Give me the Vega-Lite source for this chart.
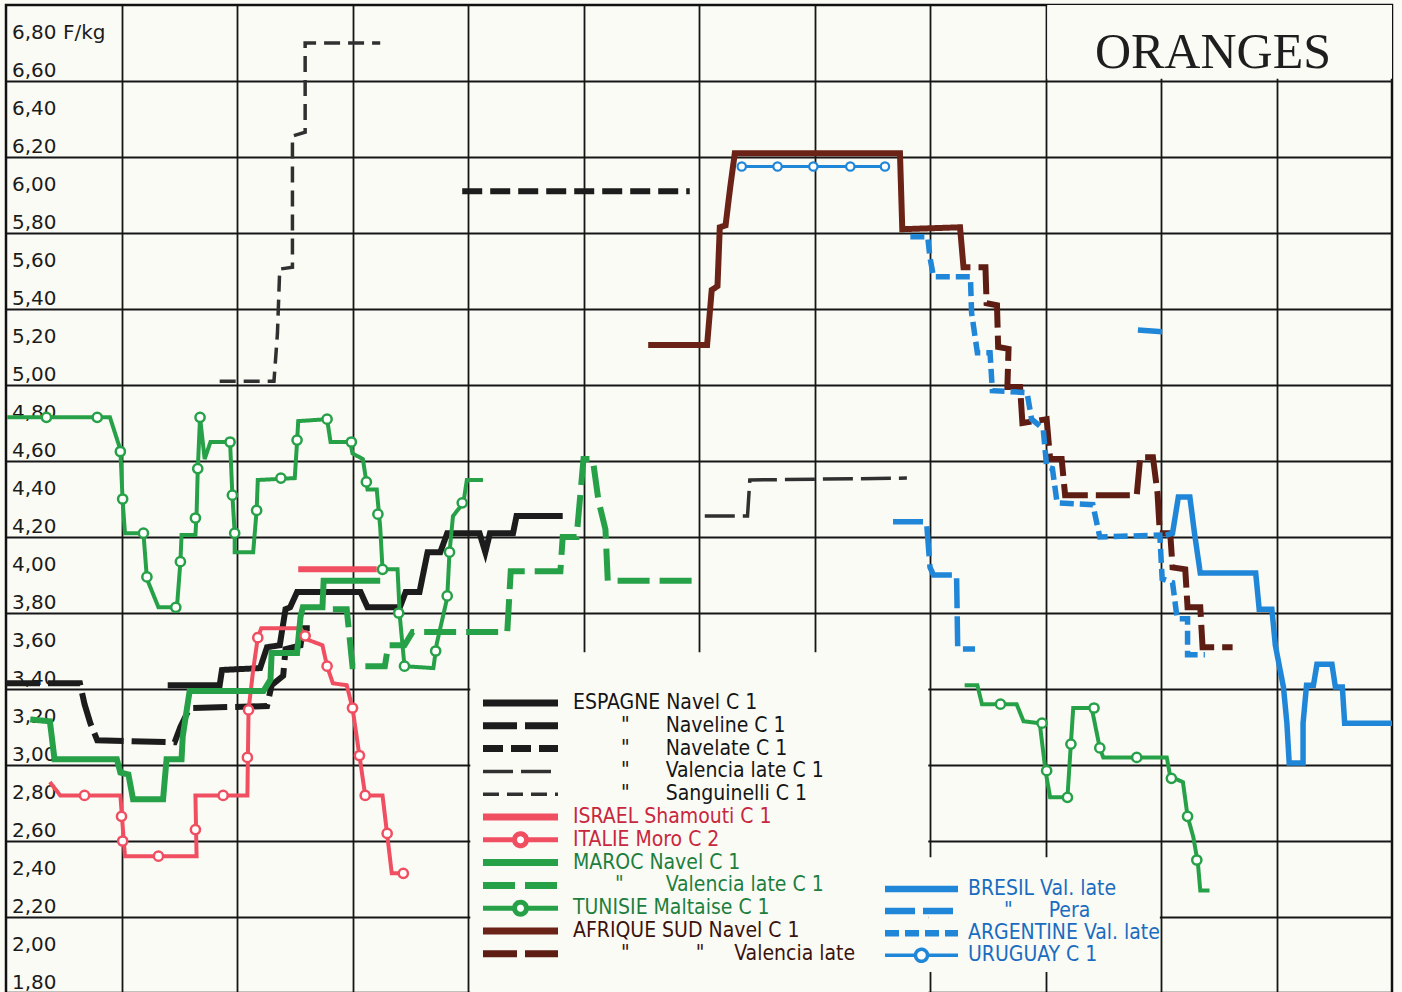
{
  "$schema": "https://vega.github.io/schema/vega-lite/v6.json",
  "width": 1386,
  "height": 988,
  "autosize": "none",
  "padding": {"left": 6, "top": 5, "right": 10, "bottom": 0},
  "background": "#fbfbf6",
  "config": {"view": {"stroke": "#111111", "strokeWidth": 2.5}, "locale": {"number": {"decimal": ",", "thousands": ".", "grouping": [3], "currency": ["", ""]}}},
  "datasets": {
    "yticks": [{"p":1.8},{"p":2.0},{"p":2.2},{"p":2.4},{"p":2.6},{"p":2.8},{"p":3.0},{"p":3.2},{"p":3.4},{"p":3.6},{"p":3.8},{"p":4.0},{"p":4.2},{"p":4.4},{"p":4.6},{"p":4.8},{"p":5.0},{"p":5.2},{"p":5.4},{"p":5.6},{"p":5.8},{"p":6.0},{"p":6.2},{"p":6.4},{"p":6.6},{"p":6.8}],
    "linesA": [
      {"s":"ESPAGNE Navel C 1","m":1.40,"v":3.42},{"s":"ESPAGNE Navel C 1","m":1.85,"v":3.42},{"s":"ESPAGNE Navel C 1","m":1.87,"v":3.50},{"s":"ESPAGNE Navel C 1","m":2.20,"v":3.51},{"s":"ESPAGNE Navel C 1","m":2.26,"v":3.62},{"s":"ESPAGNE Navel C 1","m":2.37,"v":3.63},{"s":"ESPAGNE Navel C 1","m":2.42,"v":3.82},{"s":"ESPAGNE Navel C 1","m":2.46,"v":3.83},{"s":"ESPAGNE Navel C 1","m":2.52,"v":3.91},{"s":"ESPAGNE Navel C 1","m":3.07,"v":3.91},{"s":"ESPAGNE Navel C 1","m":3.13,"v":3.83},{"s":"ESPAGNE Navel C 1","m":3.41,"v":3.83},{"s":"ESPAGNE Navel C 1","m":3.46,"v":3.91},{"s":"ESPAGNE Navel C 1","m":3.58,"v":3.91},{"s":"ESPAGNE Navel C 1","m":3.65,"v":4.12},{"s":"ESPAGNE Navel C 1","m":3.76,"v":4.12},{"s":"ESPAGNE Navel C 1","m":3.82,"v":4.22},{"s":"ESPAGNE Navel C 1","m":4.10,"v":4.22},{"s":"ESPAGNE Navel C 1","m":4.15,"v":4.12},{"s":"ESPAGNE Navel C 1","m":4.19,"v":4.22},{"s":"ESPAGNE Navel C 1","m":4.39,"v":4.22},{"s":"ESPAGNE Navel C 1","m":4.42,"v":4.31},{"s":"ESPAGNE Navel C 1","m":4.82,"v":4.31},
      {"s":"ESPAGNE Naveline C 1","m":0.0,"v":3.43},{"s":"ESPAGNE Naveline C 1","m":0.64,"v":3.43},{"s":"ESPAGNE Naveline C 1","m":0.68,"v":3.32},{"s":"ESPAGNE Naveline C 1","m":0.73,"v":3.22},{"s":"ESPAGNE Naveline C 1","m":0.79,"v":3.13},{"s":"ESPAGNE Naveline C 1","m":1.46,"v":3.12},{"s":"ESPAGNE Naveline C 1","m":1.51,"v":3.20},{"s":"ESPAGNE Naveline C 1","m":1.59,"v":3.30},{"s":"ESPAGNE Naveline C 1","m":2.26,"v":3.31},{"s":"ESPAGNE Naveline C 1","m":2.30,"v":3.42},{"s":"ESPAGNE Naveline C 1","m":2.40,"v":3.47},{"s":"ESPAGNE Naveline C 1","m":2.42,"v":3.61},{"s":"ESPAGNE Naveline C 1","m":2.55,"v":3.63},{"s":"ESPAGNE Naveline C 1","m":2.57,"v":3.72},{"s":"ESPAGNE Naveline C 1","m":2.63,"v":3.72},
      {"s":"ESPAGNE Navelate C 1","m":3.95,"v":6.02},{"s":"ESPAGNE Navelate C 1","m":5.92,"v":6.02},
      {"s":"ESPAGNE Valencia late C 1","m":6.05,"v":4.31},{"s":"ESPAGNE Valencia late C 1","m":6.42,"v":4.31},{"s":"ESPAGNE Valencia late C 1","m":6.44,"v":4.50},{"s":"ESPAGNE Valencia late C 1","m":7.80,"v":4.51},
      {"s":"ESPAGNE Sanguinelli C 1","m":1.85,"v":5.02},{"s":"ESPAGNE Sanguinelli C 1","m":2.32,"v":5.02},{"s":"ESPAGNE Sanguinelli C 1","m":2.35,"v":5.27},{"s":"ESPAGNE Sanguinelli C 1","m":2.37,"v":5.61},{"s":"ESPAGNE Sanguinelli C 1","m":2.48,"v":5.62},{"s":"ESPAGNE Sanguinelli C 1","m":2.48,"v":6.31},{"s":"ESPAGNE Sanguinelli C 1","m":2.59,"v":6.33},{"s":"ESPAGNE Sanguinelli C 1","m":2.59,"v":6.80},{"s":"ESPAGNE Sanguinelli C 1","m":3.24,"v":6.80},
      {"s":"ISRAEL Shamouti C 1","m":2.53,"v":4.03},{"s":"ISRAEL Shamouti C 1","m":3.21,"v":4.03},
      {"s":"ITALIE Moro C 2","m":0.38,"v":2.91},{"s":"ITALIE Moro C 2","m":0.47,"v":2.84},{"s":"ITALIE Moro C 2","m":0.99,"v":2.84},{"s":"ITALIE Moro C 2","m":1.03,"v":2.52},{"s":"ITALIE Moro C 2","m":1.65,"v":2.52},{"s":"ITALIE Moro C 2","m":1.64,"v":2.84},{"s":"ITALIE Moro C 2","m":2.09,"v":2.84},{"s":"ITALIE Moro C 2","m":2.10,"v":3.29},{"s":"ITALIE Moro C 2","m":2.14,"v":3.50},{"s":"ITALIE Moro C 2","m":2.18,"v":3.67},{"s":"ITALIE Moro C 2","m":2.21,"v":3.72},{"s":"ITALIE Moro C 2","m":2.55,"v":3.72},{"s":"ITALIE Moro C 2","m":2.61,"v":3.66},{"s":"ITALIE Moro C 2","m":2.74,"v":3.63},{"s":"ITALIE Moro C 2","m":2.78,"v":3.52},{"s":"ITALIE Moro C 2","m":2.83,"v":3.43},{"s":"ITALIE Moro C 2","m":2.95,"v":3.42},{"s":"ITALIE Moro C 2","m":3.00,"v":3.30},{"s":"ITALIE Moro C 2","m":3.11,"v":2.84},{"s":"ITALIE Moro C 2","m":3.26,"v":2.84},{"s":"ITALIE Moro C 2","m":3.34,"v":2.43},{"s":"ITALIE Moro C 2","m":3.45,"v":2.43},
      {"s":"MAROC Navel C 1","m":0.21,"v":3.24},{"s":"MAROC Navel C 1","m":0.38,"v":3.23},{"s":"MAROC Navel C 1","m":0.42,"v":3.03},{"s":"MAROC Navel C 1","m":0.96,"v":3.03},{"s":"MAROC Navel C 1","m":0.99,"v":2.96},{"s":"MAROC Navel C 1","m":1.06,"v":2.95},{"s":"MAROC Navel C 1","m":1.10,"v":2.82},{"s":"MAROC Navel C 1","m":1.36,"v":2.82},{"s":"MAROC Navel C 1","m":1.39,"v":3.03},{"s":"MAROC Navel C 1","m":1.52,"v":3.03},{"s":"MAROC Navel C 1","m":1.53,"v":3.15},{"s":"MAROC Navel C 1","m":1.59,"v":3.39},{"s":"MAROC Navel C 1","m":2.23,"v":3.39},{"s":"MAROC Navel C 1","m":2.29,"v":3.45},{"s":"MAROC Navel C 1","m":2.30,"v":3.59},{"s":"MAROC Navel C 1","m":2.52,"v":3.59},{"s":"MAROC Navel C 1","m":2.55,"v":3.78},{"s":"MAROC Navel C 1","m":2.57,"v":3.83},{"s":"MAROC Navel C 1","m":2.74,"v":3.83},{"s":"MAROC Navel C 1","m":2.75,"v":3.97},{"s":"MAROC Navel C 1","m":3.24,"v":3.97},
      {"s":"MAROC Valencia late C 1","m":2.83,"v":3.82},{"s":"MAROC Valencia late C 1","m":2.95,"v":3.82},{"s":"MAROC Valencia late C 1","m":3.00,"v":3.52},{"s":"MAROC Valencia late C 1","m":3.28,"v":3.52},{"s":"MAROC Valencia late C 1","m":3.31,"v":3.63},{"s":"MAROC Valencia late C 1","m":3.45,"v":3.63},{"s":"MAROC Valencia late C 1","m":3.52,"v":3.70},{"s":"MAROC Valencia late C 1","m":4.34,"v":3.70},{"s":"MAROC Valencia late C 1","m":4.37,"v":4.02},{"s":"MAROC Valencia late C 1","m":4.80,"v":4.02},{"s":"MAROC Valencia late C 1","m":4.82,"v":4.20},{"s":"MAROC Valencia late C 1","m":4.94,"v":4.20},{"s":"MAROC Valencia late C 1","m":5.00,"v":4.61},{"s":"MAROC Valencia late C 1","m":5.08,"v":4.61},{"s":"MAROC Valencia late C 1","m":5.13,"v":4.39},{"s":"MAROC Valencia late C 1","m":5.19,"v":4.24},{"s":"MAROC Valencia late C 1","m":5.21,"v":3.97},{"s":"MAROC Valencia late C 1","m":5.95,"v":3.97},
      {"s":"TUNISIE Maltaise C 1","k":1,"m":0.01,"v":4.83},{"s":"TUNISIE Maltaise C 1","k":1,"m":0.90,"v":4.83},{"s":"TUNISIE Maltaise C 1","k":1,"m":0.99,"v":4.66},{"s":"TUNISIE Maltaise C 1","k":1,"m":1.01,"v":4.39},{"s":"TUNISIE Maltaise C 1","k":1,"m":1.03,"v":4.22},{"s":"TUNISIE Maltaise C 1","k":1,"m":1.19,"v":4.22},{"s":"TUNISIE Maltaise C 1","k":1,"m":1.22,"v":3.98},{"s":"TUNISIE Maltaise C 1","k":1,"m":1.32,"v":3.83},{"s":"TUNISIE Maltaise C 1","k":1,"m":1.48,"v":3.83},{"s":"TUNISIE Maltaise C 1","k":1,"m":1.51,"v":4.07},{"s":"TUNISIE Maltaise C 1","k":1,"m":1.52,"v":4.21},{"s":"TUNISIE Maltaise C 1","k":1,"m":1.64,"v":4.21},{"s":"TUNISIE Maltaise C 1","k":1,"m":1.65,"v":4.32},{"s":"TUNISIE Maltaise C 1","k":1,"m":1.66,"v":4.55},{"s":"TUNISIE Maltaise C 1","k":1,"m":1.68,"v":4.83},{"s":"TUNISIE Maltaise C 1","k":1,"m":1.72,"v":4.61},{"s":"TUNISIE Maltaise C 1","k":1,"m":1.77,"v":4.70},{"s":"TUNISIE Maltaise C 1","k":1,"m":1.94,"v":4.70},{"s":"TUNISIE Maltaise C 1","k":1,"m":1.96,"v":4.42},{"s":"TUNISIE Maltaise C 1","k":1,"m":1.98,"v":4.22},{"s":"TUNISIE Maltaise C 1","k":1,"m":1.98,"v":4.12},{"s":"TUNISIE Maltaise C 1","k":1,"m":2.14,"v":4.12},{"s":"TUNISIE Maltaise C 1","k":1,"m":2.17,"v":4.34},{"s":"TUNISIE Maltaise C 1","k":1,"m":2.18,"v":4.50},{"s":"TUNISIE Maltaise C 1","k":1,"m":2.50,"v":4.51},{"s":"TUNISIE Maltaise C 1","k":1,"m":2.52,"v":4.70},{"s":"TUNISIE Maltaise C 1","k":1,"m":2.53,"v":4.81},{"s":"TUNISIE Maltaise C 1","k":1,"m":2.78,"v":4.82},{"s":"TUNISIE Maltaise C 1","k":1,"m":2.81,"v":4.70},{"s":"TUNISIE Maltaise C 1","k":1,"m":2.98,"v":4.70},{"s":"TUNISIE Maltaise C 1","k":1,"m":3.00,"v":4.64},{"s":"TUNISIE Maltaise C 1","k":1,"m":3.09,"v":4.61},{"s":"TUNISIE Maltaise C 1","k":1,"m":3.13,"v":4.45},{"s":"TUNISIE Maltaise C 1","k":1,"m":3.21,"v":4.45},{"s":"TUNISIE Maltaise C 1","k":1,"m":3.24,"v":4.25},{"s":"TUNISIE Maltaise C 1","k":1,"m":3.26,"v":4.03},{"s":"TUNISIE Maltaise C 1","k":1,"m":3.39,"v":4.03},{"s":"TUNISIE Maltaise C 1","k":1,"m":3.41,"v":3.78},{"s":"TUNISIE Maltaise C 1","k":1,"m":3.45,"v":3.52},{"s":"TUNISIE Maltaise C 1","k":1,"m":3.70,"v":3.51},{"s":"TUNISIE Maltaise C 1","k":1,"m":3.73,"v":3.64},{"s":"TUNISIE Maltaise C 1","k":1,"m":3.82,"v":3.88},{"s":"TUNISIE Maltaise C 1","k":1,"m":3.84,"v":4.12},{"s":"TUNISIE Maltaise C 1","k":1,"m":3.87,"v":4.31},{"s":"TUNISIE Maltaise C 1","k":1,"m":3.96,"v":4.38},{"s":"TUNISIE Maltaise C 1","k":1,"m":3.99,"v":4.50},{"s":"TUNISIE Maltaise C 1","k":1,"m":4.13,"v":4.50},
      {"s":"TUNISIE Maltaise C 1","k":2,"m":8.30,"v":3.42},{"s":"TUNISIE Maltaise C 1","k":2,"m":8.41,"v":3.42},{"s":"TUNISIE Maltaise C 1","k":2,"m":8.45,"v":3.32},{"s":"TUNISIE Maltaise C 1","k":2,"m":8.75,"v":3.32},{"s":"TUNISIE Maltaise C 1","k":2,"m":8.81,"v":3.23},{"s":"TUNISIE Maltaise C 1","k":2,"m":8.95,"v":3.22},{"s":"TUNISIE Maltaise C 1","k":2,"m":9.00,"v":2.97},{"s":"TUNISIE Maltaise C 1","k":2,"m":9.04,"v":2.83},{"s":"TUNISIE Maltaise C 1","k":2,"m":9.19,"v":2.83},{"s":"TUNISIE Maltaise C 1","k":2,"m":9.21,"v":3.02},{"s":"TUNISIE Maltaise C 1","k":2,"m":9.24,"v":3.30},{"s":"TUNISIE Maltaise C 1","k":2,"m":9.40,"v":3.30},{"s":"TUNISIE Maltaise C 1","k":2,"m":9.47,"v":3.09},{"s":"TUNISIE Maltaise C 1","k":2,"m":9.50,"v":3.04},{"s":"TUNISIE Maltaise C 1","k":2,"m":10.05,"v":3.04},{"s":"TUNISIE Maltaise C 1","k":2,"m":10.08,"v":2.94},{"s":"TUNISIE Maltaise C 1","k":2,"m":10.19,"v":2.91},{"s":"TUNISIE Maltaise C 1","k":2,"m":10.23,"v":2.73},{"s":"TUNISIE Maltaise C 1","k":2,"m":10.28,"v":2.62},{"s":"TUNISIE Maltaise C 1","k":2,"m":10.32,"v":2.48},{"s":"TUNISIE Maltaise C 1","k":2,"m":10.34,"v":2.34},{"s":"TUNISIE Maltaise C 1","k":2,"m":10.42,"v":2.34},
      {"s":"AFRIQUE SUD Navel C 1","m":5.56,"v":5.21},{"s":"AFRIQUE SUD Navel C 1","m":6.07,"v":5.21},{"s":"AFRIQUE SUD Navel C 1","m":6.11,"v":5.50},{"s":"AFRIQUE SUD Navel C 1","m":6.16,"v":5.52},{"s":"AFRIQUE SUD Navel C 1","m":6.18,"v":5.83},{"s":"AFRIQUE SUD Navel C 1","m":6.23,"v":5.84},{"s":"AFRIQUE SUD Navel C 1","m":6.27,"v":6.04},{"s":"AFRIQUE SUD Navel C 1","m":6.31,"v":6.22},{"s":"AFRIQUE SUD Navel C 1","m":7.74,"v":6.22},{"s":"AFRIQUE SUD Navel C 1","m":7.76,"v":5.82},{"s":"AFRIQUE SUD Navel C 1","m":8.26,"v":5.83},{"s":"AFRIQUE SUD Navel C 1","m":8.29,"v":5.62},{"s":"AFRIQUE SUD Navel C 1","m":8.35,"v":5.62},
      {"s":"AFRIQUE SUD Valencia late","m":8.42,"v":5.62},{"s":"AFRIQUE SUD Valencia late","m":8.48,"v":5.62},{"s":"AFRIQUE SUD Valencia late","m":8.49,"v":5.43},{"s":"AFRIQUE SUD Valencia late","m":8.58,"v":5.42},{"s":"AFRIQUE SUD Valencia late","m":8.59,"v":5.20},{"s":"AFRIQUE SUD Valencia late","m":8.68,"v":5.19},{"s":"AFRIQUE SUD Valencia late","m":8.67,"v":4.99},{"s":"AFRIQUE SUD Valencia late","m":8.78,"v":4.99},{"s":"AFRIQUE SUD Valencia late","m":8.80,"v":4.80},{"s":"AFRIQUE SUD Valencia late","m":9.01,"v":4.82},{"s":"AFRIQUE SUD Valencia late","m":9.04,"v":4.61},{"s":"AFRIQUE SUD Valencia late","m":9.14,"v":4.61},{"s":"AFRIQUE SUD Valencia late","m":9.17,"v":4.42},{"s":"AFRIQUE SUD Valencia late","m":9.79,"v":4.42},{"s":"AFRIQUE SUD Valencia late","m":9.82,"v":4.62},{"s":"AFRIQUE SUD Valencia late","m":9.93,"v":4.62},{"s":"AFRIQUE SUD Valencia late","m":9.97,"v":4.43},{"s":"AFRIQUE SUD Valencia late","m":9.99,"v":4.22},{"s":"AFRIQUE SUD Valencia late","m":10.08,"v":4.22},{"s":"AFRIQUE SUD Valencia late","m":10.10,"v":4.04},{"s":"AFRIQUE SUD Valencia late","m":10.21,"v":4.03},{"s":"AFRIQUE SUD Valencia late","m":10.23,"v":3.83},{"s":"AFRIQUE SUD Valencia late","m":10.34,"v":3.83},{"s":"AFRIQUE SUD Valencia late","m":10.36,"v":3.62},{"s":"AFRIQUE SUD Valencia late","m":10.62,"v":3.62}
    ],
    "dotsA": [
      {"s":"ITALIE Moro C 2","m":0.68,"v":2.84},{"s":"ITALIE Moro C 2","m":1.00,"v":2.73},{"s":"ITALIE Moro C 2","m":1.01,"v":2.60},{"s":"ITALIE Moro C 2","m":1.32,"v":2.52},{"s":"ITALIE Moro C 2","m":1.64,"v":2.66},{"s":"ITALIE Moro C 2","m":1.88,"v":2.84},{"s":"ITALIE Moro C 2","m":2.09,"v":3.04},{"s":"ITALIE Moro C 2","m":2.10,"v":3.29},{"s":"ITALIE Moro C 2","m":2.18,"v":3.67},{"s":"ITALIE Moro C 2","m":2.59,"v":3.68},{"s":"ITALIE Moro C 2","m":2.78,"v":3.52},{"s":"ITALIE Moro C 2","m":3.00,"v":3.30},{"s":"ITALIE Moro C 2","m":3.06,"v":3.05},{"s":"ITALIE Moro C 2","m":3.11,"v":2.84},{"s":"ITALIE Moro C 2","m":3.30,"v":2.64},{"s":"ITALIE Moro C 2","m":3.44,"v":2.43},
      {"s":"TUNISIE Maltaise C 1","m":0.35,"v":4.83},{"s":"TUNISIE Maltaise C 1","m":0.79,"v":4.83},{"s":"TUNISIE Maltaise C 1","m":0.99,"v":4.65},{"s":"TUNISIE Maltaise C 1","m":1.01,"v":4.40},{"s":"TUNISIE Maltaise C 1","m":1.19,"v":4.22},{"s":"TUNISIE Maltaise C 1","m":1.22,"v":3.99},{"s":"TUNISIE Maltaise C 1","m":1.47,"v":3.83},{"s":"TUNISIE Maltaise C 1","m":1.51,"v":4.07},{"s":"TUNISIE Maltaise C 1","m":1.64,"v":4.30},{"s":"TUNISIE Maltaise C 1","m":1.66,"v":4.56},{"s":"TUNISIE Maltaise C 1","m":1.68,"v":4.83},{"s":"TUNISIE Maltaise C 1","m":1.94,"v":4.70},{"s":"TUNISIE Maltaise C 1","m":1.96,"v":4.42},{"s":"TUNISIE Maltaise C 1","m":1.98,"v":4.22},{"s":"TUNISIE Maltaise C 1","m":2.17,"v":4.34},{"s":"TUNISIE Maltaise C 1","m":2.38,"v":4.51},{"s":"TUNISIE Maltaise C 1","m":2.52,"v":4.71},{"s":"TUNISIE Maltaise C 1","m":2.78,"v":4.82},{"s":"TUNISIE Maltaise C 1","m":2.99,"v":4.70},{"s":"TUNISIE Maltaise C 1","m":3.12,"v":4.49},{"s":"TUNISIE Maltaise C 1","m":3.22,"v":4.32},{"s":"TUNISIE Maltaise C 1","m":3.26,"v":4.03},{"s":"TUNISIE Maltaise C 1","m":3.40,"v":3.80},{"s":"TUNISIE Maltaise C 1","m":3.45,"v":3.52},{"s":"TUNISIE Maltaise C 1","m":3.72,"v":3.60},{"s":"TUNISIE Maltaise C 1","m":3.82,"v":3.89},{"s":"TUNISIE Maltaise C 1","m":3.84,"v":4.12},{"s":"TUNISIE Maltaise C 1","m":3.95,"v":4.38},
      {"s":"TUNISIE Maltaise C 1","m":8.61,"v":3.32},{"s":"TUNISIE Maltaise C 1","m":8.97,"v":3.22},{"s":"TUNISIE Maltaise C 1","m":9.01,"v":2.97},{"s":"TUNISIE Maltaise C 1","m":9.19,"v":2.83},{"s":"TUNISIE Maltaise C 1","m":9.22,"v":3.11},{"s":"TUNISIE Maltaise C 1","m":9.42,"v":3.30},{"s":"TUNISIE Maltaise C 1","m":9.47,"v":3.09},{"s":"TUNISIE Maltaise C 1","m":9.79,"v":3.04},{"s":"TUNISIE Maltaise C 1","m":10.09,"v":2.93},{"s":"TUNISIE Maltaise C 1","m":10.23,"v":2.73},{"s":"TUNISIE Maltaise C 1","m":10.31,"v":2.50}
    ],
    "linesB": [
      {"s":"BRESIL Val. late","m":10.04,"v":4.21},{"s":"BRESIL Val. late","m":10.10,"v":4.22},{"s":"BRESIL Val. late","m":10.15,"v":4.41},{"s":"BRESIL Val. late","m":10.25,"v":4.41},{"s":"BRESIL Val. late","m":10.29,"v":4.22},{"s":"BRESIL Val. late","m":10.34,"v":4.01},{"s":"BRESIL Val. late","m":10.82,"v":4.01},{"s":"BRESIL Val. late","m":10.85,"v":3.82},{"s":"BRESIL Val. late","m":10.96,"v":3.82},{"s":"BRESIL Val. late","m":10.99,"v":3.63},{"s":"BRESIL Val. late","m":11.06,"v":3.41},{"s":"BRESIL Val. late","m":11.09,"v":3.22},{"s":"BRESIL Val. late","m":11.11,"v":3.01},{"s":"BRESIL Val. late","m":11.23,"v":3.01},{"s":"BRESIL Val. late","m":11.23,"v":3.22},{"s":"BRESIL Val. late","m":11.26,"v":3.42},{"s":"BRESIL Val. late","m":11.32,"v":3.42},{"s":"BRESIL Val. late","m":11.35,"v":3.53},{"s":"BRESIL Val. late","m":11.48,"v":3.53},{"s":"BRESIL Val. late","m":11.51,"v":3.41},{"s":"BRESIL Val. late","m":11.57,"v":3.41},{"s":"BRESIL Val. late","m":11.59,"v":3.22},{"s":"BRESIL Val. late","m":12.0,"v":3.22},
      {"s":"BRESIL Pera","k":1,"m":7.68,"v":4.28},{"s":"BRESIL Pera","k":1,"m":7.97,"v":4.28},{"s":"BRESIL Pera","k":1,"m":8.00,"v":4.04},{"s":"BRESIL Pera","k":1,"m":8.03,"v":4.00},{"s":"BRESIL Pera","k":1,"m":8.23,"v":4.00},{"s":"BRESIL Pera","k":1,"m":8.24,"v":3.61},{"s":"BRESIL Pera","k":1,"m":8.39,"v":3.61},
      {"s":"BRESIL Pera","k":2,"m":9.80,"v":5.29},{"s":"BRESIL Pera","k":2,"m":10.01,"v":5.28},
      {"s":"ARGENTINE Val. late","m":7.83,"v":5.78},{"s":"ARGENTINE Val. late","m":7.98,"v":5.78},{"s":"ARGENTINE Val. late","m":8.00,"v":5.67},{"s":"ARGENTINE Val. late","m":8.03,"v":5.57},{"s":"ARGENTINE Val. late","m":8.35,"v":5.57},{"s":"ARGENTINE Val. late","m":8.36,"v":5.38},{"s":"ARGENTINE Val. late","m":8.41,"v":5.17},{"s":"ARGENTINE Val. late","m":8.52,"v":5.17},{"s":"ARGENTINE Val. late","m":8.54,"v":4.97},{"s":"ARGENTINE Val. late","m":8.84,"v":4.96},{"s":"ARGENTINE Val. late","m":8.88,"v":4.82},{"s":"ARGENTINE Val. late","m":8.98,"v":4.77},{"s":"ARGENTINE Val. late","m":9.01,"v":4.57},{"s":"ARGENTINE Val. late","m":9.06,"v":4.56},{"s":"ARGENTINE Val. late","m":9.10,"v":4.38},{"s":"ARGENTINE Val. late","m":9.41,"v":4.37},{"s":"ARGENTINE Val. late","m":9.47,"v":4.20},{"s":"ARGENTINE Val. late","m":9.99,"v":4.21},{"s":"ARGENTINE Val. late","m":10.01,"v":3.98},{"s":"ARGENTINE Val. late","m":10.10,"v":3.96},{"s":"ARGENTINE Val. late","m":10.14,"v":3.77},{"s":"ARGENTINE Val. late","m":10.23,"v":3.77},{"s":"ARGENTINE Val. late","m":10.23,"v":3.58},{"s":"ARGENTINE Val. late","m":10.38,"v":3.58},
      {"s":"URUGUAY C 1","m":6.33,"v":6.15},{"s":"URUGUAY C 1","m":7.65,"v":6.15}
    ],
    "dotsB": [
      {"s":"URUGUAY C 1","m":6.37,"v":6.15},{"s":"URUGUAY C 1","m":6.68,"v":6.15},{"s":"URUGUAY C 1","m":6.99,"v":6.15},{"s":"URUGUAY C 1","m":7.31,"v":6.15},{"s":"URUGUAY C 1","m":7.61,"v":6.15}
    ]
  },
  "resolve": {"scale": {"color": "independent", "strokeDash": "independent", "stroke": "independent"}},
  "layer": [
    {
      "data": {"values": [{}]},
      "mark": {"type": "rect", "color": "#fbfbf6", "strokeWidth": 0},
      "encoding": {
        "x": {"datum": 4.02, "type": "quantitative", "scale": {"domain": [0, 12], "nice": false, "zero": false}, "axis": {"title": null, "grid": true, "gridColor": "#161616", "gridWidth": 1.8, "gridOpacity": 1, "domain": false, "ticks": false, "labels": false, "values": [1,2,3,4,5,6,7,8,9,10,11]}},
        "x2": {"datum": 7.985},
        "y": {"datum": 3.593, "type": "quantitative", "scale": {"domain": [1.8, 7.0], "nice": false, "zero": false}, "axis": {"title": null, "grid": true, "gridColor": "#161616", "gridWidth": 1.8, "gridOpacity": 1, "domain": false, "ticks": false, "labels": false, "values": [1.8,2,2.2,2.4,2.6,2.8,3,3.2,3.4,3.6,3.8,4,4.2,4.4,4.6,4.8,5,5.2,5.4,5.6,5.8,6,6.2,6.4,6.6,6.8]}},
        "y2": {"datum": 1.8}
      }
    },
    {
      "data": {"values": [{}]},
      "mark": {"type": "rect", "color": "#fbfbf6", "strokeWidth": 0},
      "encoding": {
        "x": {"datum": 7.985, "type": "quantitative"},
        "x2": {"datum": 9.99},
        "y": {"datum": 2.515, "type": "quantitative"},
        "y2": {"datum": 1.91}
      }
    },
    {
      "data": {"values": [{}]},
      "mark": {"type": "rect", "color": "#fbfbf6", "strokeWidth": 0},
      "encoding": {
        "x": {"datum": 9.015, "type": "quantitative"},
        "x2": {"datum": 12},
        "y": {"datum": 6.612, "type": "quantitative"},
        "y2": {"datum": 7.0}
      }
    },
    {
      "data": {"name": "yticks"},
      "mark": {"type": "text", "font": "DejaVu Sans", "fontSize": 20, "align": "left", "baseline": "alphabetic", "dx": 6, "dy": -4, "color": "#1b1b1b"},
      "encoding": {
        "x": {"datum": 0, "type": "quantitative"},
        "y": {"field": "p", "type": "quantitative"},
        "text": {"condition": {"test": "datum.p == 6.8", "value": "6,80 F/kg"}, "field": "p", "type": "quantitative", "format": ".2f"}
      }
    },
    {
      "data": {"values": [{"t": "ORANGES"}]},
      "mark": {"type": "text", "font": "Liberation Serif", "fontSize": 50, "align": "center", "baseline": "alphabetic", "color": "#1e1e1e"},
      "encoding": {
        "text": {"field": "t"},
        "x": {"datum": 10.45, "type": "quantitative"},
        "y": {"datum": 6.67, "type": "quantitative"}
      }
    },
    {
      "layer": [
        {
          "data": {"name": "linesA"},
          "mark": {"type": "line", "strokeCap": "butt", "strokeJoin": "miter", "strokeWidth": {"expr": "datum.s == 'ESPAGNE Valencia late C 1' || datum.s == 'ESPAGNE Sanguinelli C 1' ? 3.5 : (datum.s == 'ITALIE Moro C 2' || datum.s == 'TUNISIE Maltaise C 1') ? 4 : 6"}},
          "encoding": {
            "x": {"field": "m", "type": "quantitative"},
            "y": {"field": "v", "type": "quantitative"},
            "detail": {"field": "k"},
            "order": {"value": null},
            "strokeDash": {"field": "s", "type": "nominal", "legend": null, "scale": {"domain": ["ESPAGNE Navel C 1","ESPAGNE Naveline C 1","ESPAGNE Navelate C 1","ESPAGNE Valencia late C 1","ESPAGNE Sanguinelli C 1","ISRAEL Shamouti C 1","ITALIE Moro C 2","MAROC Navel C 1","MAROC Valencia late C 1","TUNISIE Maltaise C 1","AFRIQUE SUD Navel C 1","AFRIQUE SUD Valencia late"], "range": [[1,0],[34,8],[20,8],[30,8],[16,8],[1,0],[1,0],[1,0],[32,10],[1,0],[1,0],[34,8]]}},
            "color": {"field": "s", "type": "nominal",
              "scale": {"domain": ["ESPAGNE Navel C 1","ESPAGNE Naveline C 1","ESPAGNE Navelate C 1","ESPAGNE Valencia late C 1","ESPAGNE Sanguinelli C 1","ISRAEL Shamouti C 1","ITALIE Moro C 2","MAROC Navel C 1","MAROC Valencia late C 1","TUNISIE Maltaise C 1","AFRIQUE SUD Navel C 1","AFRIQUE SUD Valencia late"], "range": ["#1c1c1c","#1c1c1c","#1c1c1c","#303030","#303030","#ef4f60","#ef4f60","#27a148","#27a148","#27a148","#6a2316","#5e1d13"]},
              "legend": {
                "orient": "none", "legendX": 477, "legendY": 689, "title": null, "padding": 0,
                "symbolType": {"expr": "datum.value == 'ITALIE Moro C 2' || datum.value == 'TUNISIE Maltaise C 1' ? 'M-1.5,0H3M4.714,0H9.214M3,0A0.857,0.857,0,1,1,4.714,0A0.857,0.857,0,1,1,3,0Z' : 'M-1.5,0H9.214'"},
                "symbolSize": 196, "symbolFillColor": "#ffffff",
                "symbolStrokeWidth": {"expr": "datum.value == 'ESPAGNE Valencia late C 1' || datum.value == 'ESPAGNE Sanguinelli C 1' ? 3.5 : (datum.value == 'ITALIE Moro C 2' || datum.value == 'TUNISIE Maltaise C 1') ? 5 : 7"},
                "symbolDash": {"expr": "datum.value == 'ESPAGNE Naveline C 1' ? [34,8] : datum.value == 'ESPAGNE Navelate C 1' ? [20,8] : datum.value == 'ESPAGNE Valencia late C 1' ? [30,8] : datum.value == 'ESPAGNE Sanguinelli C 1' ? [16,8] : datum.value == 'MAROC Valencia late C 1' ? [32,10] : datum.value == 'AFRIQUE SUD Valencia late' ? [34,8] : [1,0]"},
                "clipHeight": 18, "rowPadding": 1.8,
                "labelOffset": 69, "labelFont": "Liberation Sans Narrow, DejaVu Sans Condensed, sans-serif", "labelFontSize": 21, "labelLimit": 0,
                "labelColor": {"expr": "indexof(datum.value, 'ESPAGNE') == 0 ? '#151515' : (indexof(datum.value, 'ISRAEL') == 0 || indexof(datum.value, 'ITALIE') == 0) ? '#c8283e' : (indexof(datum.value, 'MAROC') == 0 || indexof(datum.value, 'TUNISIE') == 0) ? '#1d7f3d' : '#3c130c'"},
                "labelExpr": "datum.label == 'ESPAGNE Navel C 1' ? datum.label : indexof(datum.label, 'ESPAGNE ') == 0 ? '\u200b\u00a0\u00a0\u00a0\u00a0\u00a0\u00a0\u00a0\u00a0\"\u00a0\u00a0\u00a0\u00a0\u00a0\u00a0' + replace(datum.label, 'ESPAGNE ', '') : datum.label == 'MAROC Valencia late C 1' ? '\u200b\u00a0\u00a0\u00a0\u00a0\u00a0\u00a0\u00a0\"\u00a0\u00a0\u00a0\u00a0\u00a0\u00a0\u00a0Valencia late C 1' : datum.label == 'AFRIQUE SUD Valencia late' ? '\u200b\u00a0\u00a0\u00a0\u00a0\u00a0\u00a0\u00a0\u00a0\"\u00a0\u00a0\u00a0\u00a0\u00a0\u00a0\u00a0\u00a0\u00a0\u00a0\u00a0\"\u00a0\u00a0\u00a0\u00a0\u00a0Valencia late' : datum.label"
              }
            }
          }
        },
        {
          "data": {"name": "dotsA"},
          "mark": {"type": "point", "filled": false, "size": 85, "strokeWidth": 2.5, "opacity": 1},
          "encoding": {
            "x": {"field": "m", "type": "quantitative"},
            "y": {"field": "v", "type": "quantitative"},
            "fill": {"value": "#ffffff"},
            "stroke": {"field": "s", "type": "nominal", "legend": null,
              "scale": {"domain": ["ITALIE Moro C 2","TUNISIE Maltaise C 1"], "range": ["#ef4f60","#27a148"]}}
          }
        }
      ]
    },
    {
      "layer": [
        {
          "data": {"name": "linesB"},
          "mark": {"type": "line", "strokeCap": "butt", "strokeJoin": "miter", "strokeWidth": {"expr": "datum.s == 'URUGUAY C 1' ? 3 : 5.5"}},
          "encoding": {
            "x": {"field": "m", "type": "quantitative"},
            "y": {"field": "v", "type": "quantitative"},
            "detail": {"field": "k"},
            "order": {"value": null},
            "strokeDash": {"field": "s", "type": "nominal", "legend": null, "scale": {"domain": ["BRESIL Val. late","BRESIL Pera","ARGENTINE Val. late","URUGUAY C 1"], "range": [[1,0],[30,8],[14,6],[1,0]]}},
            "color": {"field": "s", "type": "nominal",
              "scale": {"domain": ["BRESIL Val. late","BRESIL Pera","ARGENTINE Val. late","URUGUAY C 1"], "range": ["#1f86d8","#1f86d8","#1f86d8","#1f86d8"]},
              "legend": {
                "orient": "none", "legendX": 879, "legendY": 875, "title": null, "padding": 0,
                "symbolType": {"expr": "datum.value == 'URUGUAY C 1' ? 'M-1.5,0H2.857M4.571,0H8.93M2.857,0A0.857,0.857,0,1,1,4.571,0A0.857,0.857,0,1,1,2.857,0Z' : 'M-1.5,0H8.93'"},
                "symbolSize": 196, "symbolFillColor": "#ffffff",
                "symbolStrokeWidth": {"expr": "datum.value == 'URUGUAY C 1' ? 3.5 : 6.5"},
                "symbolDash": {"expr": "datum.value == 'BRESIL Pera' ? [32,6] : datum.value == 'ARGENTINE Val. late' ? [15,5] : [1,0]"},
                "clipHeight": 18, "rowPadding": 1.1,
                "labelOffset": 62, "labelFont": "Liberation Sans Narrow, DejaVu Sans Condensed, sans-serif", "labelFontSize": 21, "labelLimit": 0, "labelColor": "#1a6cc0",
                "labelExpr": "datum.label == 'BRESIL Pera' ? '\u200b\u00a0\u00a0\u00a0\u00a0\u00a0\u00a0\"\u00a0\u00a0\u00a0\u00a0\u00a0\u00a0Pera' : datum.label"
              }
            }
          }
        },
        {
          "data": {"name": "dotsB"},
          "mark": {"type": "point", "filled": false, "size": 70, "strokeWidth": 2.2, "opacity": 1},
          "encoding": {
            "x": {"field": "m", "type": "quantitative"},
            "y": {"field": "v", "type": "quantitative"},
            "fill": {"value": "#ffffff"},
            "stroke": {"value": "#1f86d8"}
          }
        }
      ]
    }
  ]
}
